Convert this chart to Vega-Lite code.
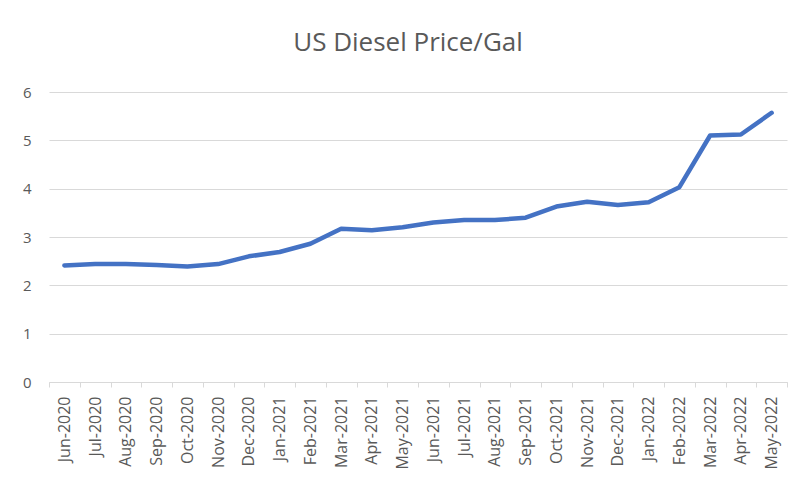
{
  "$schema": "https://vega.github.io/schema/vega-lite/v6.json",
  "width": 738,
  "height": 290,
  "autosize": {"type": "none"},
  "padding": {"left": 49, "top": 92, "right": 13, "bottom": 105},
  "background": "white",
  "config": {
    "view": {"stroke": null},
    "font": "Open Sans"
  },
  "title": {
    "text": "US Diesel Price/Gal",
    "fontSize": 26,
    "fontWeight": "normal",
    "color": "#595959",
    "font": "Open Sans",
    "anchor": "middle",
    "offset": 29,
    "dx": -10
  },
  "data": {
    "values": [
      {"month": "Jun-2020", "price": 2.41},
      {"month": "Jul-2020", "price": 2.44},
      {"month": "Aug-2020", "price": 2.44},
      {"month": "Sep-2020", "price": 2.42},
      {"month": "Oct-2020", "price": 2.39},
      {"month": "Nov-2020", "price": 2.44},
      {"month": "Dec-2020", "price": 2.60},
      {"month": "Jan-2021", "price": 2.69},
      {"month": "Feb-2021", "price": 2.86},
      {"month": "Mar-2021", "price": 3.17},
      {"month": "Apr-2021", "price": 3.14},
      {"month": "May-2021", "price": 3.20},
      {"month": "Jun-2021", "price": 3.30},
      {"month": "Jul-2021", "price": 3.35},
      {"month": "Aug-2021", "price": 3.35},
      {"month": "Sep-2021", "price": 3.40},
      {"month": "Oct-2021", "price": 3.63},
      {"month": "Nov-2021", "price": 3.73},
      {"month": "Dec-2021", "price": 3.66},
      {"month": "Jan-2022", "price": 3.72},
      {"month": "Feb-2022", "price": 4.03},
      {"month": "Mar-2022", "price": 5.10},
      {"month": "Apr-2022", "price": 5.12},
      {"month": "May-2022", "price": 5.57}
    ]
  },
  "mark": {"type": "line", "color": "#4472C4", "strokeWidth": 4.5, "strokeCap": "round", "strokeJoin": "round"},
  "encoding": {
    "x": {
      "field": "month",
      "type": "ordinal",
      "sort": null,
      "scale": {"type": "band", "paddingInner": 0, "paddingOuter": 0},
      "axis": {
        "title": null,
        "labelAngle": -90,
        "labelAlign": "right",
        "labelBaseline": "middle",
        "labelFontSize": 16,
        "labelColor": "#595959",
        "labelPadding": 9,
        "tickBand": "extent",
        "tickColor": "#d9d9d9",
        "tickSize": 5,
        "domainColor": "#d9d9d9",
        "domainWidth": 1,
        "grid": false
      }
    },
    "y": {
      "field": "price",
      "type": "quantitative",
      "scale": {"domain": [0, 6], "nice": false},
      "axis": {
        "title": null,
        "values": [0, 1, 2, 3, 4, 5, 6],
        "labelFontSize": 15,
        "labelColor": "#595959",
        "labelPadding": 18,
        "ticks": false,
        "domain": false,
        "gridColor": "#d9d9d9",
        "gridWidth": 1
      }
    }
  }
}
